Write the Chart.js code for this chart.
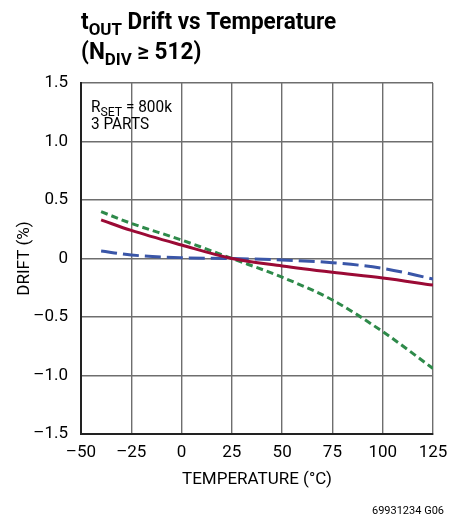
<!DOCTYPE html>
<html>
<head>
<meta charset="utf-8">
<script src="https://cdn.jsdelivr.net/npm/chart.js@4"></script>
<style>
  html, body { margin: 0; padding: 0; background: #fff; }
  #wrap { width: 461px; height: 521px; position: relative; }
</style>
</head>
<body>
<div id="wrap"><canvas id="driftChart"></canvas></div>
<script>
// data
const temps = [-40, -25, 0, 25, 50, 75, 100, 125];
const part1 = [0.33, 0.24, 0.115, 0.0, -0.064, -0.118, -0.167, -0.227];   // red solid
const part2 = [0.064, 0.03, 0.007, 0.0, -0.013, -0.036, -0.084, -0.175];  // blue long dash
const part3 = [0.40, 0.30, 0.158, 0.0, -0.16, -0.355, -0.625, -0.94];     // green short dash
const xTicks = [-50, -25, 0, 25, 50, 75, 100, 125];
const yTicks = [-1.5, -1.0, -0.5, 0, 0.5, 1.0, 1.5];

const FONT = "Roboto, 'Liberation Sans', sans-serif";

function pts(ys) {
  return temps.map((t, i) => ({ x: t, y: ys[i] }));
}

function minus(v, digits) {
  let s = digits ? Math.abs(v).toFixed(digits) : String(Math.abs(v));
  return (v < 0 ? "\u2013" : "") + s;
}

// draws text made of [text, isSub] pieces, squeezed sideways a bit
function richText(ctx, parts, x, y, size, weight, squeeze, subScale) {
  ctx.save();
  ctx.translate(x, y);
  ctx.scale(squeeze, 1);
  let cx = 0;
  parts.forEach(p => {
    const sz = p[1] ? size * subScale : size;
    ctx.font = weight + " " + sz + "px " + FONT;
    ctx.fillText(p[0], cx, p[1] ? size * 0.24 : 0);
    cx += ctx.measureText(p[0]).width;
  });
  ctx.restore();
}

const textPlugin = {
  id: "textPlugin",
  afterDraw(chart) {
    const ctx = chart.ctx;
    const a = chart.chartArea;
    ctx.save();
    ctx.fillStyle = "#000";
    ctx.textBaseline = "alphabetic";
    ctx.textAlign = "left";
    richText(ctx, [["t", false], ["OUT", true], [" Drift vs Temperature", false]], 81, 29, 23, "bold", 0.98, 0.75);
    richText(ctx, [["(N", false], ["DIV", true], [" \u2265 512)", false]], 81, 59, 23, "bold", 0.98, 0.75);
    richText(ctx, [["R", false], ["SET", true], [" = 800k", false]], a.left + 10, 112, 16, "normal", 0.96, 0.8);
    richText(ctx, [["3 PARTS", false]], a.left + 10, 129, 16, "normal", 0.96, 0.8);
    ctx.font = "11px " + FONT;
    ctx.textAlign = "right";
    ctx.fillText("69931234 G06", 444, 514);
    ctx.restore();
  }
};

new Chart(document.getElementById("driftChart"), {
  type: "line",
  data: {
    datasets: [
      {
        label: "Part 1",
        data: pts(part1),
        borderColor: "#9b0a35",
        borderWidth: 3,
        cubicInterpolationMode: "monotone",
        pointRadius: 0,
      },
      {
        label: "Part 2",
        data: pts(part2),
        borderColor: "#3a56a8",
        borderWidth: 3,
        borderDash: [16, 6],
        cubicInterpolationMode: "monotone",
        pointRadius: 0,
      },
      {
        label: "Part 3",
        data: pts(part3),
        borderColor: "#2e8a4a",
        borderWidth: 3,
        borderDash: [7, 4],
        cubicInterpolationMode: "monotone",
        pointRadius: 0,
      },
    ],
  },
  options: {
    responsive: true,
    maintainAspectRatio: false,
    animation: false,
    layout: { padding: { top: 83, right: 28, left: 0, bottom: 0 } },
    plugins: {
      legend: { display: false },
      tooltip: { enabled: false },
    },
    scales: {
      x: {
        type: "linear",
        min: -50,
        max: 125,
        afterBuildTicks: (s) => { s.ticks = xTicks.map(v => ({ value: v })); },
        afterFit: (s) => { s.height = 87; },
        grid: { color: "#6e6e6e", lineWidth: 1.4, drawTicks: false },
        border: { color: "#222", width: 2 },
        ticks: {
          color: "#000",
          padding: 9,
          maxRotation: 0,
          font: { family: FONT, size: 17 },
          callback: (v) => minus(v),
        },
        title: {
          display: true,
          text: "TEMPERATURE (\u00b0C)",
          color: "#000",
          font: { family: FONT, size: 17 },
          padding: { top: 0, bottom: 31 },
        },
      },
      y: {
        min: -1.5,
        max: 1.5,
        afterBuildTicks: (s) => { s.ticks = yTicks.map(v => ({ value: v })); },
        afterFit: (s) => { s.width = 81; },
        grid: { color: "#6e6e6e", lineWidth: 1.4, drawTicks: false },
        border: { color: "#222", width: 2 },
        ticks: {
          color: "#000",
          padding: 13,
          font: { family: FONT, size: 17 },
          callback: (v) => (v === 0 ? "0" : minus(v, 1)),
        },
        title: {
          display: true,
          text: "DRIFT (%)",
          color: "#000",
          font: { family: FONT, size: 17 },
          padding: { top: 15, bottom: 0 },
        },
      },
    },
  },
  plugins: [textPlugin],
});
</script>
</body>
</html>
